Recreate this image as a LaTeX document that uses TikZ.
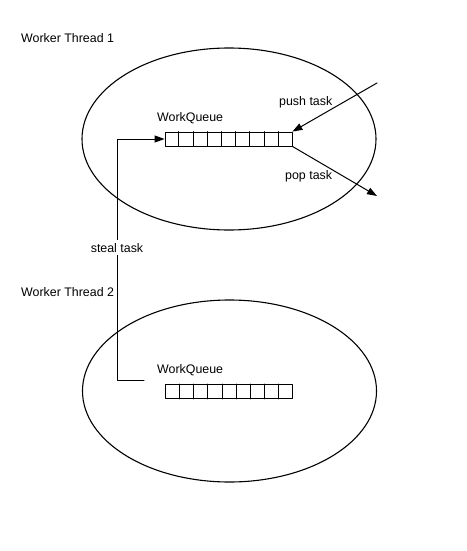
\documentclass[tikz,border=0pt]{standalone}
\usepackage{fontspec}
\setmainfont{Liberation Sans}
\usetikzlibrary{arrows.meta}
\usetikzlibrary{shapes.geometric,calc}

\begin{document}
\begin{tikzpicture}[line cap=round,line join=round,>={Triangle[length=10pt,width=7pt]},x=1pt,y=-1pt,
    thread/.style={draw,ellipse,line width=1.1pt,minimum width=294pt,minimum height=182pt,inner sep=0pt},
    queue/.style={draw,rectangle,line width=0.8pt,minimum width=127pt,minimum height=14pt,inner sep=0pt},
    lbl/.style={font=\fontsize{12.4}{14}\selectfont,inner sep=0pt}]
                \useasboundingbox (0,0) rectangle (466,551);
                \node [thread] (t1) at (229,139) {};
                \node [thread] (t2) at (229.5,391) {};
                \node [queue] (q1) at (228.5,139) {};
                \node [queue] (q2) at (229,391.5) {};
                \foreach \i in {1,...,8} {
                    \draw [line width=0.8pt] ($(q1.north west)!\i/9!(q1.north east)$) -- ($(q1.south west)!\i/9!(q1.south east)$);
                    \draw [line width=0.8pt] ($(q2.north west)!\i/9!(q2.north east)$) -- ($(q2.south west)!\i/9!(q2.south east)$);
                }
                \coordinate (pushin) at (377,83);
                \coordinate (popout) at (377,196);
                \coordinate (stealfrom) at (144,380);
                \coordinate (bend) at (117,380);
                \draw [->,line width=1pt] (pushin) -- (q1.north east);
                \draw [->,line width=1pt] (q1.south east) -- (popout);
                \draw [->,line width=1pt] (stealfrom) -- (bend) |- (q1.west);
                \node [lbl,anchor=base west] (wt1) at (21,43) {Worker Thread 1};
                \node [lbl,anchor=base west] (wt2) at (21,296) {Worker Thread 2};
                \node [lbl,anchor=base west] (wq1) at (157,121) {WorkQueue};
                \node [lbl,anchor=base west] (wq2) at (157,373) {WorkQueue};
                \node [lbl,anchor=base west] (push) at (279,105) {push task};
                \node [lbl,anchor=base west] (pop) at (285,179) {pop task};
                \node [lbl,anchor=base,fill=white,inner ysep=3pt] (steal) at (117,252) {steal task};
            \end{tikzpicture}
\end{document}
